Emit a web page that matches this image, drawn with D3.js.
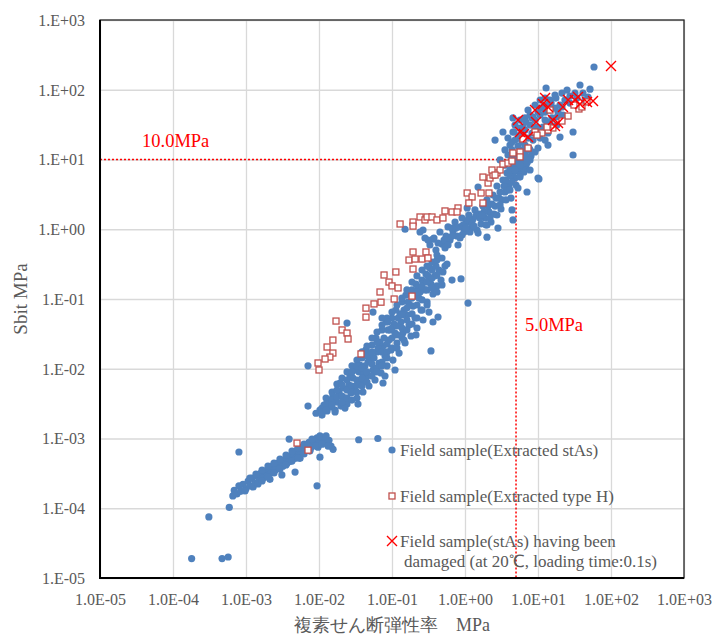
<!doctype html>
<html lang="ja">
    <head>
        <meta charset="utf-8">
        <title>Sbit vs complex shear modulus</title>
        <style>
            body { margin: 0; background: #fff; }
            text { font-family: "Liberation Serif", "Times New Roman", serif; }
        </style>
    </head>

    <body>
        <script src="https://cdnjs.cloudflare.com/ajax/libs/d3/7.8.5/d3.min.js"></script>
        <script>

            // tick values and labels
            var tickValues = [1e-5, 1e-4, 1e-3, 1e-2, 1e-1, 1e0, 1e1, 1e2, 1e3];
            var xTickLabels = ["1.0E-05", "1.0E-04", "1.0E-03", "1.0E-02", "1.0E-01", "1.0E+00", "1.0E+01", "1.0E+02", "1.0E+03"];
            var yTickLabels = ["1.E-05", "1.E-04", "1.E-03", "1.E-02", "1.E-01", "1.E+00", "1.E+01", "1.E+02", "1.E+03"];

            // reference lines (MPa)
            var refG = 5.0;
            var refS = 10.0;

            var legendLabels = [
                "Field sample(Extracted stAs)",
                "Field sample(Extracted type H)",
                "Field sample(stAs) having been"
            ];
            var legendLabel2 = "damaged (at 20\u2103, loading time:0.1s)";

            // Field sample(Extracted stAs)  [G*, Sbit]
            var stAsPoints = [
                [1.8e-4,1.9e-5],[3.1e-4,7.5e-5],[4.7e-4,1.9e-5],[5.7e-4,2.0e-5],[5.9e-4,1.03e-4],[8.0e-4,6.4e-4],
                [9.4e-3,2.1e-4],[1.03e-2,5.4e-4],[3.9e-3,9.8e-4],[4.7e-3,3.3e-4],[3.1e-3,3.0e-4],[3.5e-2,9.6e-4],[6.4e-2,1.0e-3],
                [6.6e-4,1.5e-4],[6.9e-4,1.8e-4],[7.5e-4,1.6e-4],[8.0e-4,2.1e-4],[8.5e-4,1.75e-4],[9.1e-4,2.2e-4],[1.0e-3,1.9e-4],
                [1.07e-3,2.45e-4],[1.13e-3,2.1e-4],[1.21e-3,2.7e-4],[1.33e-3,2.3e-4],[1.41e-3,2.9e-4],[1.51e-3,2.5e-4],[1.6e-3,3.2e-4],
                [1.71e-3,2.7e-4],[1.82e-3,3.4e-4],[1.94e-3,2.9e-4],[2.07e-3,3.75e-4],[2.2e-3,3.2e-4],[2.34e-3,4.1e-4],[2.5e-3,3.5e-4],
                [2.66e-3,4.4e-4],[2.83e-3,3.75e-4],[3.0e-3,4.7e-4],[3.2e-3,4.0e-4],[3.4e-3,5.0e-4],[3.65e-3,4.4e-4],[3.9e-3,5.6e-4],
                [4.1e-3,4.7e-4],[4.4e-3,6.1e-4],[4.7e-3,5.2e-4],[5.0e-3,6.8e-4],[5.3e-3,5.75e-4],[5.7e-3,7.5e-4],[6.0e-3,6.4e-4],
                [6.4e-3,8.0e-4],[6.9e-3,7.0e-4],[7.3e-3,8.8e-4],[7.8e-3,7.5e-4],[8.3e-3,9.4e-4],[8.8e-3,8.0e-4],[9.4e-3,1.02e-3],
                [1.0e-2,8.5e-4],[1.07e-2,1.05e-3],[1.13e-2,9.1e-4],[1.21e-2,1.02e-3],[1.29e-2,8.5e-4],[1.37e-2,9.4e-4],[1.46e-2,7.8e-4],
                [1.56e-2,7.0e-4],[9.7e-3,7.5e-4],[7.5e-3,6.6e-4],[5.5e-3,5.2e-4],[2.13e-3,2.6e-4],
                [1.13e-3,2.71e-4],[1.37e-3,3.1e-4],[1.66e-3,3.53e-4],[2.0e-3,4.03e-4],[2.42e-3,4.45e-4],[2.92e-3,5.08e-4],[3.53e-3,5.8e-4],
                [4.27e-3,6.62e-4],[5.16e-3,7.3e-4],[6.23e-3,8.3e-4],[8.02e-3,9.8e-4],[1.03e-2,1.09e-3],[1.25e-2,1.09e-3],
                [9.7e-4,1.77e-4],[1.25e-3,2.02e-4],[1.46e-3,2.23e-4],[1.66e-3,2.46e-4],[2.0e-3,2.8e-4],[2.42e-3,3.2e-4],[2.92e-3,3.66e-4],
                [3.53e-3,4.17e-4],[4.27e-3,4.76e-4],[5.16e-3,5.25e-4],[6.23e-3,6.0e-4],[7.53e-3,6.84e-4],[9.1e-3,7.8e-4],[1.10e-2,8.3e-4],
                [1.33e-2,7.8e-4],
                // middle band
                [9.1e-3,2.3e-3],[1.03e-2,2.55e-3],[1.1e-2,2.17e-3],[1.17e-2,3.0e-3],[1.29e-2,2.48e-3],[1.37e-2,3.56e-3],[1.46e-2,2.83e-3],
                [1.55e-2,4.07e-3],[1.66e-2,2.56e-3],[1.76e-2,3.33e-3],[1.88e-2,4.5e-3],[2.0e-2,2.92e-3],[2.13e-2,5.3e-3],[2.27e-2,3.8e-3],
                [2.42e-2,3.12e-3],[2.58e-2,5.85e-3],[2.74e-2,4.5e-3],[2.92e-2,7.37e-3],[3.11e-2,5.3e-3],[3.31e-2,3.8e-3],[3.53e-2,9.0e-3],
                [3.76e-2,6.25e-3],[4.0e-2,4.64e-3],[4.27e-2,1.1e-2],[4.54e-2,7.87e-3],[4.84e-2,5.66e-3],[5.16e-2,1.33e-2],[5.49e-2,9.6e-3],
                [5.85e-2,6.9e-3],[6.23e-2,1.74e-2],[6.64e-2,1.21e-2],[7.07e-2,8.7e-3],[7.53e-2,2.12e-2],[8.02e-2,1.52e-2],[8.55e-2,1.1e-2],
                [9.1e-2,2.58e-2],[9.7e-2,1.86e-2],[0.103,1.33e-2],[0.110,3.25e-2],[0.117,2.34e-2],[0.125,1.68e-2],[0.133,4.68e-2],
                [0.141,3.25e-2],[0.151,2.34e-2],[0.160,5.9e-2],[0.171,4.24e-2],[0.182,2.95e-2],[0.194,7.93e-2],[0.207,5.34e-2],
                [0.220,3.84e-2],[0.234,0.103],[0.250,6.95e-2],[0.266,5.0e-2],[0.283,0.135],[0.302,9.05e-2],[0.321,6.5e-2],
                [0.342,0.164],[0.364,0.118],[0.388,0.214],[0.413,0.154],[0.440,0.26],[0.469,0.187],[0.499,0.244],[0.532,0.297],
                [3.64e-2,1.13e-2],[4.99e-2,1.57e-2],[6.85e-2,2.42e-2],[9.4e-2,3.6e-2],[0.129,6.1e-2],[2.66e-2,7.87e-3],[1.94e-2,6.25e-3],
                [0.176,8.2e-2],[0.242,0.126],[2.27e-2,2.73e-3],[1.66e-2,2.4e-3],[8.02e-2,7.87e-3],[0.110,9.6e-3],
                [3.21e-2,9.6e-3],[3.88e-2,1.43e-2],[4.4e-2,1.86e-2],[5.32e-2,2.19e-2],[6.04e-2,2.76e-2],[7.3e-2,3.6e-2],[8.28e-2,4.68e-2],
                [0.100,5.34e-2],[0.113,6.95e-2],[0.137,9.05e-2],[0.155,0.114],[0.188,0.135],[0.213,0.164],[0.258,0.187],[0.292,0.228],
                [0.331,0.278],[4.13e-2,8.4e-3],[4.69e-2,1.25e-2],[5.67e-2,1.43e-2],[6.43e-2,1.98e-2],[7.78e-2,2.76e-2],[8.82e-2,3.6e-2],
                [0.107,4.38e-2],[0.121,5.34e-2],[0.146,6.95e-2],[0.166,9.05e-2],[0.200,0.110],[0.227,0.144],[0.274,0.175],[0.311,0.214],
                [0.353,0.26],[0.400,0.297],
                [1.10e-2,2.73e-3],[1.10e-2,2.4e-3],[1.25e-2,3.8e-3],[1.25e-2,3.12e-3],[1.25e-2,2.56e-3],
                [1.51e-2,4.64e-3],[1.51e-2,3.56e-3],[1.51e-2,3.02e-3],[1.76e-2,6.04e-3],[1.76e-2,4.96e-3],[1.76e-2,3.94e-3],
                [2.07e-2,7.37e-3],[2.07e-2,5.85e-3],[2.07e-2,4.07e-3],[2.07e-2,3.33e-3],
                [2.42e-2,9.0e-3],[2.42e-2,6.9e-3],[2.42e-2,4.96e-3],[2.42e-2,3.8e-3],
                [2.83e-2,1.1e-2],[2.83e-2,9.0e-3],[2.83e-2,5.66e-3],[2.83e-2,4.64e-3],[2.83e-2,3.56e-3],
                [3.31e-2,1.33e-2],[3.31e-2,1.1e-2],[3.31e-2,6.9e-3],[3.31e-2,5.85e-3],[3.31e-2,4.64e-3],
                [3.88e-2,1.74e-2],[3.88e-2,1.02e-2],[3.88e-2,7.37e-3],[3.88e-2,5.66e-3],
                [4.54e-2,2.12e-2],[4.54e-2,1.52e-2],[4.54e-2,9.0e-3],[4.54e-2,6.45e-3],
                [5.32e-2,2.76e-2],[5.32e-2,1.74e-2],[5.32e-2,1.17e-2],[5.32e-2,7.87e-3],
                [6.23e-2,3.36e-2],[6.23e-2,2.42e-2],[6.23e-2,1.02e-2],[6.23e-2,9.0e-3],
                [7.30e-2,4.24e-2],[7.30e-2,1.74e-2],[7.30e-2,1.25e-2],[7.30e-2,1.1e-2],
                [8.55e-2,5.34e-2],[8.55e-2,2.26e-2],[8.55e-2,1.74e-2],[8.55e-2,1.43e-2],
                [0.100,6.5e-2],[0.100,3.84e-2],[0.100,2.76e-2],[0.100,1.98e-2],
                [0.117,8.2e-2],[0.117,4.1e-2],[0.117,3.05e-2],[0.117,1.98e-2],
                [0.137,0.103],[0.137,5.9e-2],[0.137,3.84e-2],[0.137,2.76e-2],
                [0.160,0.135],[0.160,7.4e-2],[0.160,5.0e-2],[0.160,3.6e-2],
                [0.188,0.175],[0.188,0.103],[0.188,6.1e-2],[0.188,4.38e-2],
                [0.220,0.214],[0.220,0.126],[0.220,8.2e-2],[0.220,5.34e-2],
                [0.258,0.26],[0.258,0.154],[0.258,9.7e-2],[0.258,6.95e-2],
                [0.302,0.297],[0.302,0.175],[0.302,0.135],[0.302,8.2e-2],
                [0.353,0.339],[0.353,0.20],[0.353,0.144],[0.413,0.362],[0.413,0.221],[0.413,0.126],[0.484,0.387],[0.484,0.159],
                [7.07e-3,1.1e-2],[7.07e-3,2.92e-3],[2.42e-2,4.52e-2],[7.53e-2,6.25e-3],[3.42e-2,3.12e-3],[5.49e-2,6.5e-2],[7.3e-2,5.34e-2],
                [8.82e-2,4.68e-2],[0.146,2.58e-2],[0.213,3.05e-2],[0.342,1.8e-2],[0.364,4.68e-2],[0.427,5.5e-2],[0.567,0.317],
                [0.664,0.187],[0.882,0.194],[1.10,8.75e-2],
                // upper band
                [0.331,0.595],[0.376,0.749],[0.400,0.504],[0.454,0.913],[0.484,0.614],[0.549,0.80],[0.585,1.08],[0.623,0.70],
                [0.685,0.944],[0.73,1.27],[0.778,0.80],[0.855,1.08],[0.91,1.45],[0.97,0.913],[1.03,1.23],[1.13,1.60],[1.21,1.04],
                [1.29,1.40],[1.37,1.89],[1.46,0.975],[1.55,1.65],[1.66,1.19],[1.76,2.15],[1.88,1.45],[2.0,2.63],[2.13,1.77],
                [2.27,1.27],[2.42,3.10],[2.58,2.15],[2.74,4.17],[2.92,2.80],[3.11,1.95],[3.31,5.08],[3.53,3.42],[3.76,6.41],
                [4.0,4.31],[4.27,2.80],[4.54,7.8],[4.84,5.43],[5.16,9.85],[5.49,6.83],[5.85,10.9],[6.23,8.1],[6.64,12.8],
                [7.07,9.2],[7.53,14.6],[8.02,11.2],[1.07,2.02],[0.802,0.595],[0.532,0.54],[0.242,0.913],[0.283,0.749],
                [0.151,1.0],[0.266,0.975],[0.364,0.72],[0.413,0.427],
                [0.516,0.70],[0.664,0.80],[0.753,1.04],[0.94,1.15],[1.10,1.36],[1.25,1.19],[1.41,1.55],[1.60,1.45],[1.82,1.77],
                [2.07,2.15],[2.34,2.30],[2.50,1.65],[2.66,2.80],[3.02,3.42],[3.21,2.63],[3.42,4.17],[3.64,5.08],[3.88,3.66],
                [4.13,5.8],[4.40,4.76],[4.69,6.62],[4.99,7.55],[5.32,9.2],[6.04,9.85],[6.43,6.62],[6.85,11.2],[1.17,0.913],
                [0.855,0.749],[1.94,1.15],[2.74,1.60],
                [0.311,0.70],[0.427,0.635],[0.585,0.595],[0.664,1.04],[0.91,0.827],[1.03,1.04],[1.33,1.11],[1.71,1.60],
                [2.20,1.45],[3.02,2.23],[3.64,2.63],[4.13,3.66],[4.99,4.31],[5.67,5.99],[6.85,7.55],[7.78,9.85],[9.10,12.8],
                [1.51,4.03],[2.0,1.15],[2.83,1.04],[4.54,1.36],[4.40,1.89],[7.07,3.42],[5.32,3.9],[2.0,0.77],[1.51,0.88],[10.3,5.25],
                // top cluster
                [58.5,212],[12.9,106],[37.6,117],[51.6,102],[25.0,99],[17.1,84],[34.2,76],[27.4,64.5],[48.4,78.7],[21.3,56.6],
                [13.7,60.4],[10.7,54.7],[7.78,43.4],[4.54,39.4],[6.23,29.2],[3.31,24.8],[2.58,19.0],[4.54,24.8],[13.7,24],
                [30.2,24.8],[13.7,16.1],[20.0,21.0],[10.0,14.6],[30.2,11.6],[10.0,5.43],[6.23,13.7],[7.07,8.9],[7.78,7.07],
                [5.67,5.6],[8.55,40.7],[9.7,29.2],[11.7,29.2],[18.2,40.7],[22.0,43.4],[14.6,34.5],
                [3.53,13.7],[4.13,16.1],[4.84,19.0],[5.67,22.4],[6.64,26.4],[7.78,31.2],[9.10,36.8],[10.7,43.4],[12.5,47.9],
                [14.6,51.2],[17.1,54.7],[3.88,11.6],[4.40,13.7],[5.32,15.6],[6.04,17.8],[7.30,20.3],[8.28,24],[9.7,22.4],
                [11.3,26.4],[13.3,31.2],[15.5,39.4],[18.8,47.9],[20.0,60.4],[23.4,71.3],[27.4,81],[32.1,89.7],[41.3,89.7],
                [44.0,71.3],[4.84,31.2],[5.67,36.8],[6.64,39.4],[7.30,51.2],[9.10,60.4],[10.7,71.3],[12.5,76],[14.6,71.3],
                [3.02,9.85],[3.53,8.3],[4.13,7.07],[4.69,10.5],[5.32,11.6],[6.64,16.1],[7.78,13.7],[8.55,19.0],[10.7,20.3],
                [12.5,19.0],[16.0,29.2],[18.2,31.2],[5.67,8.3],[4.84,7.07],
                [3.88,20.3],[4.69,24.8],[5.67,28.3],[6.85,34.5],[8.28,39.4],[10.0,47.9],[12.1,58.5],[15.1,64.5],[17.6,76],
                [21.3,89.7],[4.40,17.8],[5.32,20.3],[9.10,28.3],[12.5,36.8]
            ];

            // Field sample(Extracted type H)
            var typeHPoints = [
                [5.0e-3,8.6e-4],[7.07e-3,6.8e-4],
                [1.71e-2,4.83e-2],[2.07e-2,3.6e-2],[2.42e-2,3.25e-2],[2.5e-2,2.67e-2],[1.55e-2,2.58e-2],[1.29e-2,2.05e-2],
                [1.55e-2,1.68e-2],[1.41e-2,1.47e-2],[1.21e-2,1.38e-2],[9.7e-3,1.21e-2],[1.0e-2,9.6e-3],[3.76e-2,1.63e-2],
                [4.4e-2,7.4e-2],[4.4e-2,5.5e-2],[5.67e-2,8.5e-2],[7.07e-2,9.0e-2],[0.107,0.100],
                [0.194,0.472],[0.292,0.472],[0.171,0.362],[0.207,0.374],[0.258,0.374],[0.311,0.387],[0.194,0.269],
                [0.113,0.244],[7.78e-2,0.221],[9.1e-2,0.175],[0.100,0.154],[0.121,0.144],[6.85e-2,0.126],[0.188,0.110],
                [0.129,1.19],[0.194,1.27],[0.194,1.11],[0.242,1.50],[0.283,1.36],[0.302,1.50],[0.353,1.50],[0.413,1.36],
                [0.499,1.45],[0.532,1.83],[0.664,1.77],[0.802,2.02],[0.778,1.77],[1.07,3.31],[1.25,2.90],[1.13,2.38],
                [1.66,3.31],[1.76,2.38],[2.13,3.31],[2.07,4.60],[2.20,5.43],[1.76,5.6],[2.42,5.99],[2.74,6.41],[3.02,7.07],
                [3.31,8.6],[3.88,8.9],[4.40,9.5],
                [14.6,51.2],[25.8,42],[21.3,35.6],[16.0,28.3],[13.7,26.4],[11.3,24],[9.10,24.8],[6.23,19.7],[7.30,14.6],
                [5.67,12.8],[4.54,12.4],[5.67,10.9],[2.34,7.07],[2.58,5.99],[36.4,53],[46.9,67],[40.0,56.6],[31.1,60.4],
                [13.3,29.2],[9.7,22.4]
            ];

            // Field sample(stAs) having been damaged
            var damagedPoints = [
                [100,219],[12.5,76],[11.7,62.5],[9.10,51.2],[22.0,56.6],[25.8,71.3],[35.3,78.7],[46.9,67],[56.7,69],
                [37.6,62.5],[9.4,34.5],[5.32,36.8],[16.0,36.8],[18.8,33.3],[17.1,30.2],[5.67,24.8],[6.43,23.2],[7.30,21.0],
                [32.1,71.3],[13.7,56.6]
            ];

            //Width and height
            var w = 715;
            var h = 635;
            var mLeft = 100, mRight = 684, mTop = 20, mBottom = 578;

            var blue = "#4f81bd";
            var brick = "#c0504d";
            var red = "#ff0000";
            var grey = "#595959";

            var svg = d3.select("body")
                        .append("svg")
                        .attr("width", w)
                        .attr("height", h);

            var x = d3.scaleLog().domain([1e-5, 1e3]).range([mLeft, mRight]);
            var y = d3.scaleLog().domain([1e-5, 1e3]).range([mBottom, mTop]);

            // gridlines
            svg.append("g")
               .attr("transform", "translate(0," + mBottom + ")")
               .call(d3.axisBottom(x).tickValues(tickValues).tickSize(-(mBottom - mTop)).tickFormat(""))
               .call(function(g) {
                    g.select(".domain").remove();
                    g.selectAll("line").attr("stroke", "#d9d9d9").attr("stroke-width", 1.3);
               });

            svg.append("g")
               .attr("transform", "translate(" + mLeft + ",0)")
               .call(d3.axisLeft(y).tickValues(tickValues).tickSize(-(mRight - mLeft)).tickFormat(""))
               .call(function(g) {
                    g.select(".domain").remove();
                    g.selectAll("line").attr("stroke", "#d9d9d9").attr("stroke-width", 1.3);
               });

            // tick labels
            svg.append("g")
               .attr("transform", "translate(0," + mBottom + ")")
               .call(d3.axisBottom(x).tickValues(tickValues).tickSize(0).tickPadding(27)
                    .tickFormat(function(d, i) { return xTickLabels[i]; }))
               .call(function(g) {
                    g.select(".domain").remove();
                    g.selectAll("text").attr("fill", grey).attr("font-size", "16px")
                     .attr("font-family", "Liberation Serif").attr("dy", 0);
               });

            svg.append("g")
               .attr("transform", "translate(" + mLeft + ",0)")
               .call(d3.axisLeft(y).tickValues(tickValues).tickSize(0).tickPadding(15)
                    .tickFormat(function(d, i) { return yTickLabels[i]; }))
               .call(function(g) {
                    g.select(".domain").remove();
                    g.selectAll("text").attr("fill", grey).attr("font-size", "16px")
                     .attr("font-family", "Liberation Serif").attr("dy", "0.33em");
               });

            // red dotted reference lines
            svg.append("line")
               .attr("x1", x(1e-5)).attr("x2", x(refG))
               .attr("y1", y(refS)).attr("y2", y(refS))
               .attr("stroke", red).attr("stroke-width", 1.5).attr("stroke-dasharray", "2,2");

            svg.append("line")
               .attr("x1", x(refG)).attr("x2", x(refG))
               .attr("y1", y(refS)).attr("y2", y(1e-5))
               .attr("stroke", red).attr("stroke-width", 1.5).attr("stroke-dasharray", "2,2");

            // series
            svg.append("g").selectAll("circle")
               .data(stAsPoints)
               .enter()
               .append("circle")
               .attr("cx", function(d) { return x(d[0]); })
               .attr("cy", function(d) { return y(d[1]); })
               .attr("r", 3.6)
               .attr("fill", blue);

            svg.append("g").selectAll("rect")
               .data(typeHPoints)
               .enter()
               .append("rect")
               .attr("x", function(d) { return x(d[0]) - 3; })
               .attr("y", function(d) { return y(d[1]) - 3; })
               .attr("width", 6)
               .attr("height", 6)
               .attr("fill", "#fff")
               .attr("stroke", brick)
               .attr("stroke-width", 1.3);

            function cross(sel, s) {
                sel.append("path")
                   .attr("d", "M" + (-s) + "," + (-s) + "L" + s + "," + s + "M" + (-s) + "," + s + "L" + s + "," + (-s))
                   .attr("stroke", red)
                   .attr("stroke-width", 1.4)
                   .attr("fill", "none");
            }

            svg.append("g").selectAll("g")
               .data(damagedPoints)
               .enter()
               .append("g")
               .attr("transform", function(d) { return "translate(" + x(d[0]) + "," + y(d[1]) + ")"; })
               .call(cross, 5);

            // plot frame
            svg.append("rect")
               .attr("x", mLeft).attr("y", mTop)
               .attr("width", mRight - mLeft).attr("height", mBottom - mTop)
               .attr("fill", "none").attr("stroke", "#262626").attr("stroke-width", 1.3);

            svg.append("path")
               .attr("d", "M" + mLeft + "," + mTop + "V" + mBottom + "H" + mRight)
               .attr("fill", "none").attr("stroke", "#000").attr("stroke-width", 2);

            // reference labels
            svg.append("text")
               .attr("x", 142).attr("y", 147)
               .attr("fill", red).attr("font-size", "18.5px")
               .text(refS.toFixed(1) + "MPa");

            svg.append("text")
               .attr("x", 525).attr("y", 331)
               .attr("fill", red).attr("font-size", "18.5px")
               .text(refG.toFixed(1) + "MPa");

            // axis titles
            svg.append("text")
               .attr("transform", "translate(27," + ((mTop + mBottom) / 2) + ") rotate(-90)")
               .attr("text-anchor", "middle")
               .attr("fill", grey).attr("font-size", "19px")
               .text("Sbit MPa");

            svg.append("text")
               .attr("x", (mLeft + mRight) / 2).attr("y", 631)
               .attr("text-anchor", "middle")
               .attr("fill", grey).attr("font-size", "18px")
               .attr("font-family", "'Liberation Serif', 'Noto Sans CJK JP', serif")
               .text("複素せん断弾性率　MPa");

            // legend
            var lx = 392;
            var legend = svg.append("g").attr("fill", grey).attr("font-size", "17px");

            legend.append("circle").attr("cx", lx).attr("cy", 450).attr("r", 3.6).attr("fill", blue);
            legend.append("rect").attr("x", lx - 3).attr("y", 493).attr("width", 6).attr("height", 6)
                  .attr("fill", "#fff").attr("stroke", brick).attr("stroke-width", 1.3);
            legend.append("g").attr("transform", "translate(" + lx + ",541)").call(cross, 5);

            legend.append("text").attr("x", 400).attr("y", 456).text(legendLabels[0]);
            legend.append("text").attr("x", 400).attr("y", 502).text(legendLabels[1]);
            legend.append("text").attr("x", 400).attr("y", 547).text(legendLabels[2]);
            legend.append("text").attr("x", 404).attr("y", 567).text(legendLabel2);

        </script>
    </body>
</html>
